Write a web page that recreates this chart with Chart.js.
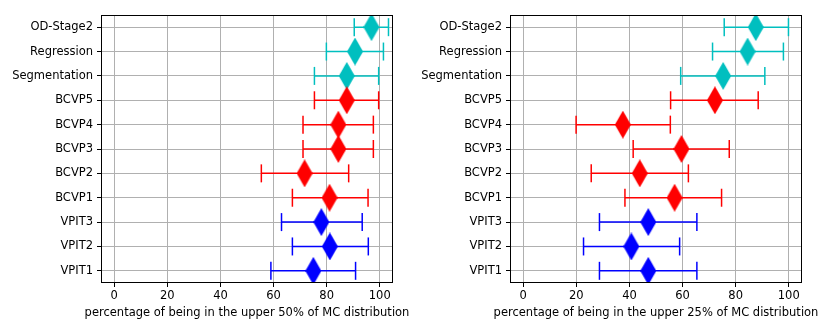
<!DOCTYPE html>
<html>
<head>
<meta charset="utf-8">
<script src="https://cdn.jsdelivr.net/npm/chart.js@4.4.0/dist/chart.umd.min.js"></script>
<style>
  body { margin: 0; background: #fff; }
  .box { position: absolute; top: 0; width: 415px; height: 332px; }
</style>
</head>
<body>
<div class="box" style="left:0"><canvas id="leftCanvas" width="415" height="332"></canvas></div>
<div class="box" style="left:415px"><canvas id="rightCanvas" width="415" height="332"></canvas></div>
<script>
const categories = ['OD-Stage2', 'Regression', 'Segmentation', 'BCVP5', 'BCVP4', 'BCVP3', 'BCVP2', 'BCVP1', 'VPIT3', 'VPIT2', 'VPIT1'];
const groupOf = ['c', 'c', 'c', 'r', 'r', 'r', 'r', 'r', 'b', 'b', 'b'];

const upper50Mean = [96.9, 90.7, 87.6, 87.6, 84.4, 84.4, 71.7, 81.1, 78.0, 81.2, 75.0];
const upper50Low  = [90.4, 79.9, 75.4, 75.4, 71.1, 71.1, 55.4, 67.1, 63.0, 67.1, 59.0];
const upper50High = [103.3, 101.4, 99.6, 99.6, 97.6, 97.6, 88.3, 95.6, 93.4, 95.7, 90.9];

const upper25Mean = [87.6, 84.5, 75.3, 72.2, 37.5, 59.6, 43.9, 57.0, 47.1, 40.7, 47.1];
const upper25Low  = [75.7, 71.3, 59.3, 55.5, 19.9, 41.4, 25.6, 38.3, 28.7, 22.7, 28.7];
const upper25High = [99.9, 98.0, 91.0, 88.5, 55.4, 77.6, 62.2, 74.7, 65.4, 58.9, 65.4];

const xTicks = [0, 20, 40, 60, 80, 100];

const colors = { c: '#00bfbf', r: '#ff0000', b: '#0000ff' };
const fontSize = 11.5;

// thin diamond marker images, one per colour
function makeDiamond(color) {
  const c = document.createElement('canvas');
  c.width = 16; c.height = 28;
  const ctx = c.getContext('2d');
  ctx.fillStyle = color;
  ctx.beginPath();
  ctx.moveTo(8, 0); ctx.lineTo(16, 14); ctx.lineTo(8, 28); ctx.lineTo(0, 14);
  ctx.closePath();
  ctx.fill();
  return c;
}
const diamonds = { c: makeDiamond(colors.c), r: makeDiamond(colors.r), b: makeDiamond(colors.b) };

// box around the axes + x axis label (chart.js squeezes long titles to the axis width)
const framePlugin = {
  id: 'frame',
  afterDatasetsDraw(chart) {
    const a = chart.chartArea;
    const ctx = chart.ctx;
    ctx.save();
    ctx.strokeStyle = '#000';
    ctx.lineWidth = 1;
    ctx.strokeRect(Math.round(a.left) + 0.5, Math.round(a.top) + 0.5, Math.round(a.right - a.left) - 1, Math.round(a.bottom - a.top) - 1);
    ctx.restore();
  },
  afterDraw(chart, args, opts) {
    const a = chart.chartArea;
    const ctx = chart.ctx;
    ctx.save();
    ctx.fillStyle = '#000';
    ctx.font = fontSize + 'px "DejaVu Sans"';
    ctx.textAlign = 'center';
    ctx.textBaseline = 'middle';
    ctx.fillText(opts.text, (a.left + a.right) / 2, 313);
    ctx.restore();
  }
};

Chart.defaults.font.family = 'DejaVu Sans';
Chart.defaults.font.size = fontSize;
Chart.defaults.color = '#000';

function buildChart(id, mean, low, high, title, leftWidth, rightPad) {
  const datasets = [];
  datasets.push({
    label: 'mean',
    order: 0,
    data: mean.map((v, i) => ({ x: v, y: i })),
    pointStyle: groupOf.map(g => diamonds[g]),
    pointRadius: 14,
    showLine: false
  });
  categories.forEach((cat, i) => {
    const col = colors[groupOf[i]];
    datasets.push({
      label: cat,
      order: 1,
      data: [{ x: low[i], y: i }, { x: high[i], y: i }],
      showLine: true,
      borderColor: col,
      borderWidth: 1.5,
      pointStyle: 'line',
      pointRotation: 90,
      pointRadius: 9,
      pointBorderColor: col,
      pointBorderWidth: 1.5
    });
  });

  new Chart(document.getElementById(id), {
    type: 'scatter',
    data: { datasets: datasets },
    options: {
      responsive: false,
      animation: false,
      layout: { padding: { top: 12, right: rightPad, bottom: 0, left: 0 } },
      plugins: { legend: { display: false }, tooltip: { enabled: false }, frame: { text: title } },
      scales: {
        x: {
          type: 'linear',
          min: -5,
          max: 105,
          afterBuildTicks: s => { s.ticks = xTicks.map(v => ({ value: v })); },
          afterFit: s => { s.height = 49; },
          ticks: { padding: 2, color: '#000', callback: v => v },
          grid: { color: '#b0b0b0', lineWidth: 1, tickColor: '#000', tickLength: 4 },
          border: { display: false }
        },
        y: {
          type: 'linear',
          min: -0.5,
          max: 10.5,
          reverse: true,
          afterBuildTicks: s => { s.ticks = categories.map((c, i) => ({ value: i })); },
          afterFit: s => { s.width = leftWidth; },
          ticks: { padding: 4, color: '#000', callback: v => categories[v] },
          grid: { color: '#b0b0b0', lineWidth: 1, tickColor: '#000', tickLength: 4 },
          border: { display: false }
        }
      }
    },
    plugins: [framePlugin]
  });
}

buildChart('leftCanvas', upper50Mean, upper50Low, upper50High, 'percentage of being in the upper 50% of MC distribution', 101, 22);
buildChart('rightCanvas', upper25Mean, upper25Low, upper25High, 'percentage of being in the upper 25% of MC distribution', 95, 28);
</script>
</body>
</html>
